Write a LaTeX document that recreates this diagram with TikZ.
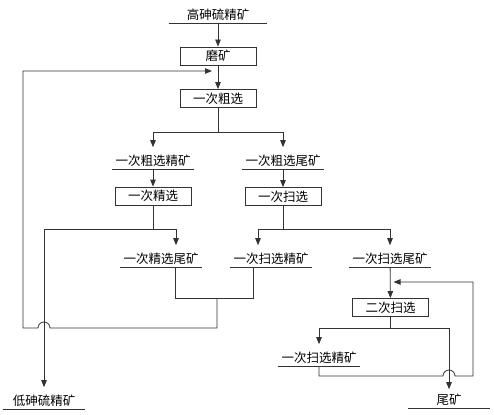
\documentclass[tikz,border=0pt]{standalone}
\usepackage{fontspec}
\newfontfamily\cjk{Noto Sans CJK SC}
\usetikzlibrary{arrows.meta}

\begin{document}
\begin{tikzpicture}[x=1pt,y=-1pt,
		line width=0.8pt, draw=black!80,
		every node/.style={font=\cjk\fontsize{12.5}{14}\selectfont},
		arr/.style={-{Triangle[length=7pt,width=5.5pt]}},
		stepbox/.style={draw, minimum width=76pt, minimum height=18pt, inner sep=0pt},
		outlabel/.style={minimum width=82pt, text height=16.5pt, text depth=2.5pt, inner ysep=1pt, inner xsep=0pt, anchor=south,
			append after command={(\tikzlastnode.south west) edge (\tikzlastnode.south east)}}]
			\useasboundingbox (0,0) rectangle (494,414);
			\node[outlabel, minimum width=98pt] (src) at (218,23) {高砷硫精矿};
			\node[stepbox] (mill) at (218,56) {磨矿};
			\node[stepbox] (rough) at (218,98.5) {一次粗选};
			\node[outlabel] (conc1) at (153,169) {一次粗选精矿};
			\node[outlabel] (tail1) at (283,169) {一次粗选尾矿};
			\node[stepbox] (clean) at (153,196) {一次精选};
			\node[stepbox] (scav) at (283,196.5) {一次扫选};
			\node[outlabel] (cleantail) at (161,267) {一次精选尾矿};
			\node[outlabel] (scavconc) at (271,267) {一次扫选精矿};
			\node[outlabel] (scavtail) at (390,267) {一次扫选尾矿};
			\node[stepbox] (scav2) at (390.5,307.5) {二次扫选};
			\node[outlabel] (scav2conc) at (319,366) {一次扫选精矿};
			\node[outlabel, text height=13.5pt] (tail) at (449,408) {尾矿};
			\node[outlabel] (lowconc) at (44,409) {低砷硫精矿};
			\coordinate (j0) at (218,132);
			\coordinate (j1) at (153,229);
			\coordinate (j2) at (283,229);
			\coordinate (j3) at (390.5,328);
			\coordinate (m1) at (217,298);
			\coordinate (ret) at (218,71);
			\coordinate (ret2) at (390.5,282);
			\draw[arr] (src) -- (mill);
			\draw[arr] (mill) -- (rough);
			\draw (rough) -- (j0);
			\draw[arr] (j0) -| (conc1);
			\draw[arr] (j0) -| (tail1);
			\draw[arr] (conc1) -- (clean);
			\draw[arr] (tail1) -- (scav);
			\draw (clean) -- (j1);
			\draw[arr] (j1) -| (lowconc);
			\draw[arr] (j1) -| ([xshift=15pt]cleantail.north);
			\draw (scav) -- (j2);
			\draw[arr] (j2) -| ([xshift=-13pt]scavconc.north);
			\draw[arr] (j2) -| (scavtail);
			\draw[arr] (scavtail) -- (scav2);
			\draw (scav2) -- (j3);
			\draw[arr] (j3) -| (scav2conc);
			\draw[arr] (j3) -| (tail);
			\draw ([xshift=14pt]cleantail.south) |- (m1);
			\draw ([xshift=-18pt]scavconc.south) |- (m1);
			\draw[arr, shorten >=6pt] (m1) -- (217,328) -- (50,328) arc (0:180:6pt) -- (23,328) |- (ret);
			\draw[arr, shorten >=3pt] (scav2conc.south) -- ++(0,10) -- (443,376) arc (180:0:6pt) -- (473,376) |- (ret2);
		\end{tikzpicture}
\end{document}
